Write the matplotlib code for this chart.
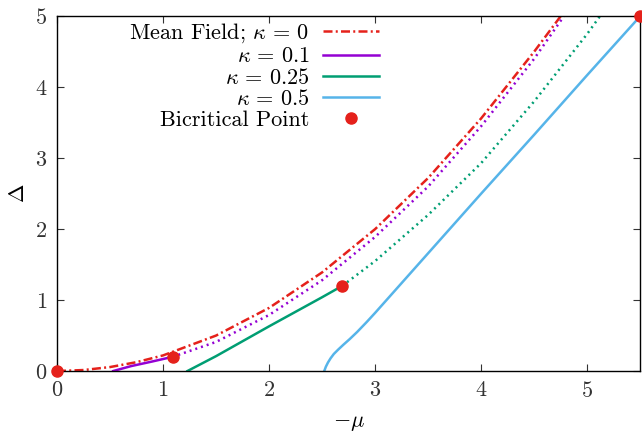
import matplotlib
matplotlib.use("Agg")
import matplotlib.pyplot as plt

plt.rcParams['font.family'] = 'serif'
plt.rcParams['font.serif'] = ['cmr10']
plt.rcParams['mathtext.fontset'] = 'cm'
plt.rcParams['axes.formatter.use_mathtext'] = True
plt.rcParams['font.size'] = 16

# mean field, kappa = 0
mf_x = [0.0, 0.25, 0.5, 0.75, 1.0, 1.5, 2.0, 2.5, 3.0, 3.5, 4.0, 4.5, 4.75]
mf_y = [0.0, 0.014, 0.056, 0.125, 0.22, 0.5, 0.89, 1.39, 2.0, 2.72, 3.56, 4.5, 5.0]

# kappa = 0.1 : solid up to bicritical point, dotted beyond
k1_x = [0.53, 0.7, 0.9, 1.09]
k1_y = [0.0, 0.07, 0.135, 0.2]
k1d_x = [1.09, 1.5, 2.0, 2.5, 3.0, 3.5, 4.0, 4.5, 4.78]
k1d_y = [0.2, 0.41, 0.79, 1.28, 1.89, 2.6, 3.45, 4.4, 5.0]

# kappa = 0.25
k2_x = [1.23, 1.5, 2.0, 2.5, 2.69]
k2_y = [0.0, 0.21, 0.63, 1.04, 1.2]
k2d_x = [2.69, 3.0, 3.5, 4.0, 4.5, 5.0, 5.12]
k2d_y = [1.2, 1.55, 2.2, 2.93, 3.8, 4.75, 5.0]

# kappa = 0.5
k5_x = [2.52, 2.535, 2.555, 2.58, 2.61, 2.65, 2.70, 2.76, 2.83, 2.92, 3.0,
        3.5, 4.0, 4.5, 5.0, 5.5]
k5_y = [0.0, 0.06, 0.12, 0.18, 0.24, 0.30, 0.37, 0.45, 0.55, 0.69, 0.82,
        1.66, 2.5, 3.33, 4.17, 5.0]

# bicritical points
bc_x = [0.0, 1.09, 2.69, 5.5]
bc_y = [0.0, 0.2, 1.2, 5.0]

RED = '#e5211b'
PURPLE = '#9400d3'
GREEN = '#009e73'
BLUE = '#56b4e9'
LW = 1.8
DOT = (0, (0.8, 1.6))

fig = plt.figure(figsize=(6.42, 4.36), dpi=100)
ax = fig.add_axes([0.0888, 0.149, 0.9085, 0.814])

ax.plot(mf_x, mf_y, color=RED, lw=LW, linestyle=(0, (3.6, 1.3, 0.8, 1.3)),
        label=r'Mean Field; $\kappa\,=\,0$')
ax.plot(k1_x, k1_y, color=PURPLE, lw=LW, label=r'$\kappa\,=\,0.1$')
ax.plot(k1d_x, k1d_y, color=PURPLE, lw=LW, linestyle=DOT)
ax.plot(k2_x, k2_y, color=GREEN, lw=LW, label=r'$\kappa\,=\,0.25$')
ax.plot(k2d_x, k2d_y, color=GREEN, lw=LW, linestyle=DOT)
ax.plot(k5_x, k5_y, color=BLUE, lw=LW, label=r'$\kappa\,=\,0.5$')
ax.plot(bc_x, bc_y, 'o', color=RED, markersize=8, clip_on=False,
        zorder=5, label='Bicritical Point')

ax.set_xlim(0, 5.5)
ax.set_ylim(0, 5)
ax.set_xticks([0, 1, 2, 3, 4, 5])
ax.set_yticks([0, 1, 2, 3, 4, 5])
ax.tick_params(direction='in', top=True, right=True, length=5,
               width=0.8, colors='#333333', labelcolor='#333333', pad=7)
for sp in ax.spines.values():
    sp.set_linewidth(1.0)
ax.set_xlabel(r'$-\mu$', labelpad=9)
ax.set_ylabel(r'$\Delta$', labelpad=5)

leg = ax.legend(loc='upper right', bbox_to_anchor=(0.578, 1.028),
                frameon=False, markerfirst=False, numpoints=1,
                handlelength=2.5, handletextpad=0.6, labelspacing=0.06,
                borderpad=0.2)
# gnuplot-style key: labels right aligned against the samples
for col in leg._legend_handle_box.get_children():
    col.align = 'right'

fig.savefig('out.png', dpi=100)
